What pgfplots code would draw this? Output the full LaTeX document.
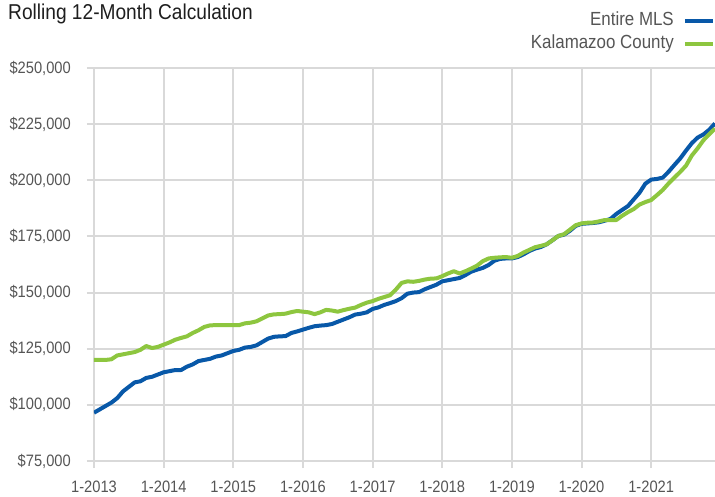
\documentclass[border=0pt]{standalone}
\usepackage{pgfplots}
\pgfplotsset{compat=1.18}
\usepackage{pgfplotstable}
\usepackage{fontspec}
\setmainfont{Liberation Sans}[FakeStretch=0.89]
\definecolor{mlsblue}{RGB}{8,88,168}
\definecolor{kzgreen}{RGB}{141,198,63}
\definecolor{gridgray}{RGB}{217,217,217}
\definecolor{ticktext}{RGB}{85,85,85}
\definecolor{titletext}{RGB}{30,30,30}

\pgfplotstableread{
m mls kz
0 96.5 120
1 98 120
2 99.5 120
3 101 120.3
4 103 122
5 106 122.5
6 108 123
7 110 123.5
8 110.5 124.5
9 112 126.2
10 112.5 125.3
11 113.5 125.8
12 114.5 126.8
13 115 127.8
14 115.5 129
15 115.5 129.8
16 117 130.5
17 118 132
18 119.5 133.2
19 120 134.7
20 120.5 135.4
21 121.5 135.5
22 122 135.5
23 123 135.5
24 124 135.5
25 124.5 135.5
26 125.5 136.3
27 125.8 136.6
28 126.5 137.2
29 128 138.5
30 129.5 139.8
31 130.3 140.3
32 130.5 140.4
33 130.6 140.6
34 132 141.3
35 132.7 141.8
36 133.5 141.5
37 134.3 141.2
38 135 140.4
39 135.3 141.2
40 135.5 142.3
41 136 142
42 137 141.5
43 138 142.2
44 139 142.8
45 140.2 143.3
46 140.6 144.5
47 141.2 145.5
48 142.7 146.2
49 143.4 147.2
50 144.5 148
51 145.3 148.8
52 146.2 151.3
53 147.5 154.3
54 149.5 155
55 150 154.8
56 150.2 155.2
57 151.5 155.8
58 152.5 156.2
59 153.5 156.3
60 155 157.3
61 155.5 158.5
62 156 159.5
63 156.5 158.5
64 157.8 159.5
65 159.3 160.7
66 160.2 162
67 161 164
68 162.3 165.2
69 164.2 165.5
70 165 165.7
71 165.2 165.8
72 165.2 165.5
73 165.8 166.3
74 167 167.8
75 168.5 169
76 169.6 170.2
77 170.3 170.8
78 171.5 171.5
79 173.3 173.3
80 175.2 175.2
81 175.8 176
82 177.5 178
83 179.7 180
84 180.6 180.8
85 180.8 181.1
86 181 181.2
87 181.3 181.7
88 182 182.3
89 182.8 182.3
90 185 182.3
91 186.8 184.2
92 188.5 185.8
93 191.5 187.2
94 194.5 189.2
95 198.5 190.3
96 200.3 191.2
97 200.6 193.4
98 201.2 195.7
99 203.8 198.6
100 206.8 201.2
101 209.7 203.7
102 213.2 206.5
103 216.5 211
104 219 214.2
105 220.4 217.8
106 222.5 220.5
107 225.3 223
}\datatable

\begin{document}
\begin{tikzpicture}
\begin{axis}[
  at={(0pt,0pt)}, anchor=south west,
  scale only axis, width=621pt, height=393pt,
  xmin=0, xmax=107, ymin=75, ymax=250,
  axis line style={draw=none},
  tick pos=left, tick align=outside,
  major tick length=7pt,
  tick style={gridgray, line width=2pt},
  grid=major, grid style={gridgray, line width=2pt},
  xtick={0,12,24,36,48,60,72,84,96},
  xticklabels={1-2013,1-2014,1-2015,1-2016,1-2017,1-2018,1-2019,1-2020,1-2021},
  ytick={75,100,125,150,175,200,225,250},
  yticklabels={\$75{,}000,\$100{,}000,\$125{,}000,\$150{,}000,\$175{,}000,\$200{,}000,\$225{,}000,\$250{,}000},
  ticklabel style={font=\fontsize{16.5}{19}\selectfont, text=ticktext, inner sep=0pt},
  yticklabel style={anchor=east, xshift=-16pt},
  xticklabel style={anchor=base, yshift=-24pt},
  legend plot pos=right,
  legend cell align=right,
  legend image code/.code={\draw[#1, line width=4pt] (0pt,0pt) -- (28pt,0pt);},
  legend style={at={(rel axis cs:1,1)}, anchor=south east, yshift=14pt,
    draw=none, fill=none, inner sep=0pt, row sep=4pt,
    font=\fontsize{19}{22}\selectfont, text=ticktext,
    nodes={inner sep=1pt, text height=13pt, text depth=4pt},
    /tikz/every odd column/.append style={column sep=8pt}},
]
\addplot[mlsblue, line width=4pt, line join=round] table[x=m, y=mls] {\datatable};
\addlegendentry{Entire MLS}
\addplot[kzgreen, line width=4pt, line join=round] table[x=m, y=kz] {\datatable};
\addlegendentry{Kalamazoo County}
\end{axis}
\node[anchor=base west, inner sep=0pt, text=titletext, font=\fontsize{21.5}{25}\selectfont] at (-86pt,441pt) {Rolling 12-Month Calculation};
\pgfresetboundingbox
\path[use as bounding box] (-94pt,-35pt) rectangle (621pt,461pt);
\end{tikzpicture}
\end{document}
